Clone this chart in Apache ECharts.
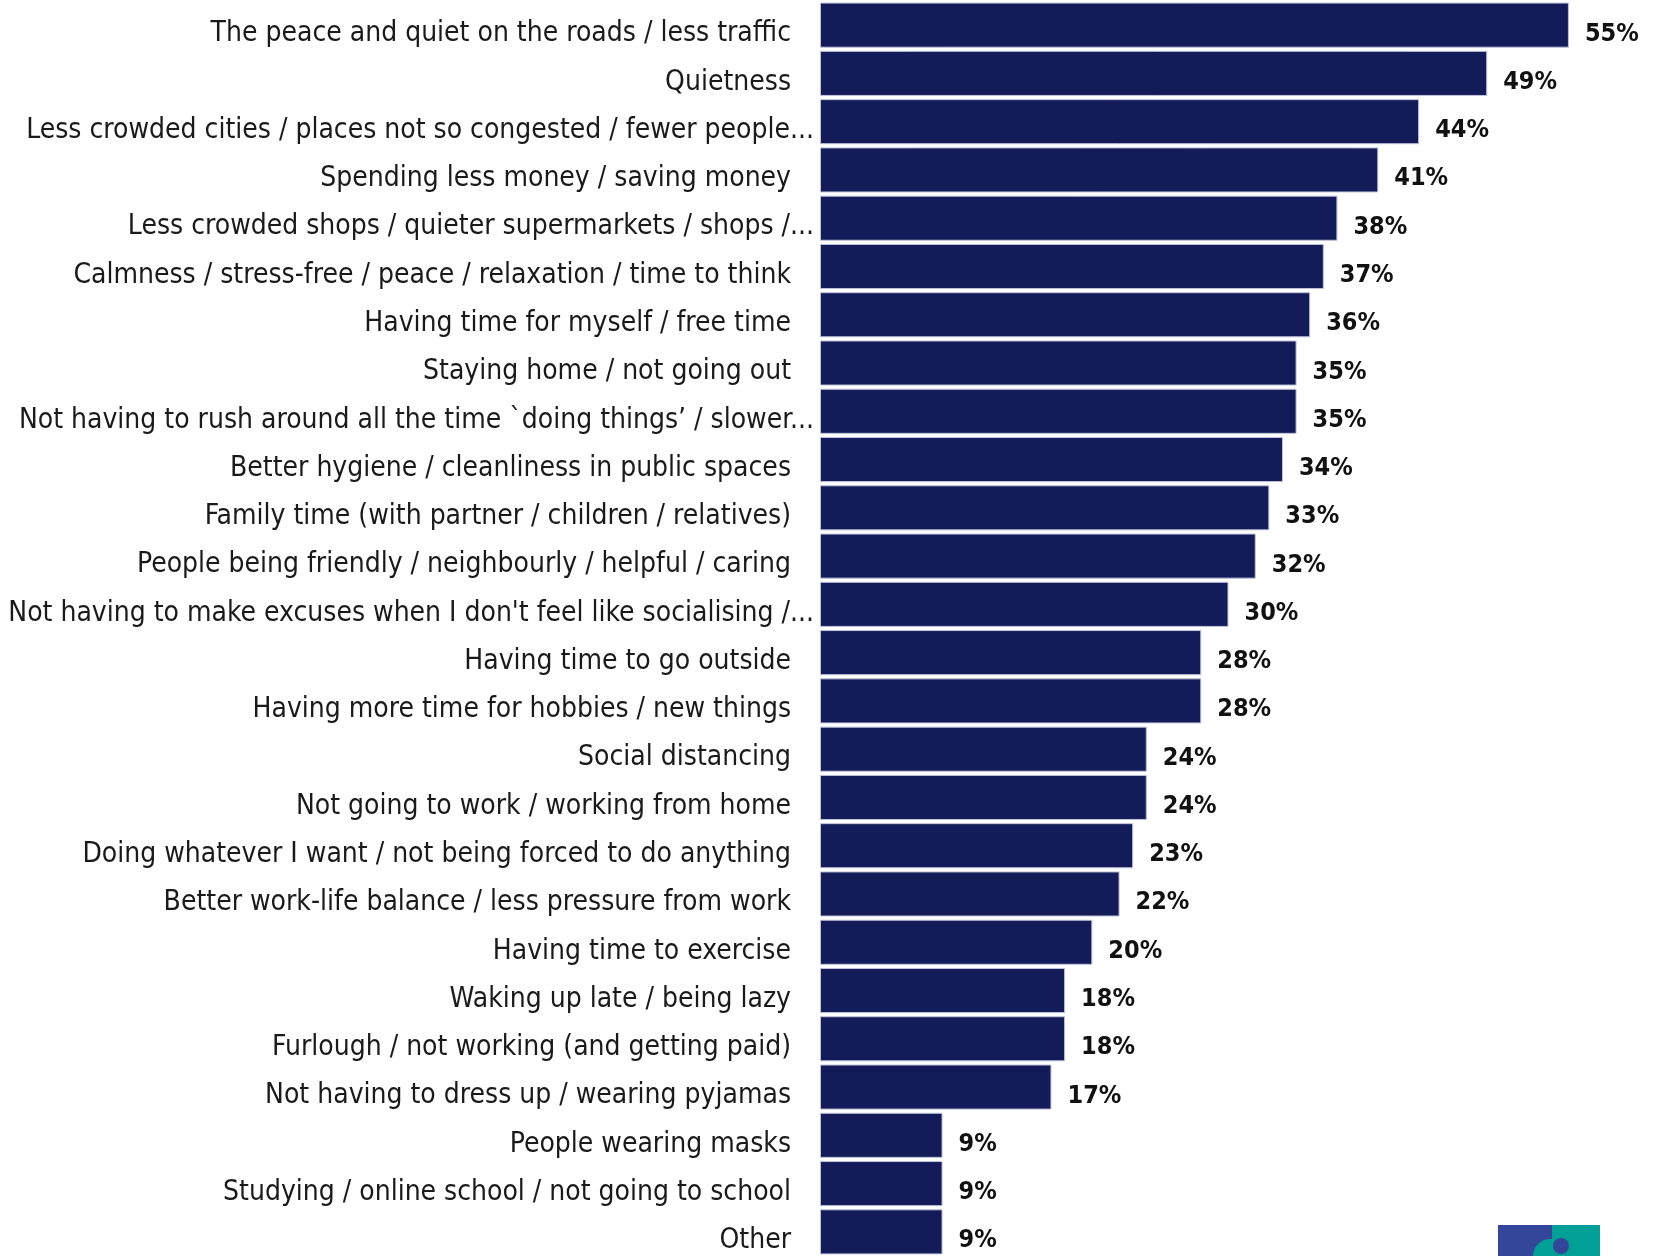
<!DOCTYPE html>
<html>
<head>
<meta charset="utf-8">
<script src="https://cdn.jsdelivr.net/npm/echarts@6/dist/echarts.min.js"></script>
<style>
html,body{margin:0;padding:0;background:#fff;overflow:hidden;}
#chart{width:1657px;height:1256px;}
</style>
</head>
<body>
<div id="chart"></div>
<script>
const categories = [
  "The peace and quiet on the roads / less traffic",
  "Quietness",
  "Less crowded cities / places not so congested / fewer people...",
  "Spending less money / saving money",
  "Less crowded shops / quieter supermarkets / shops /...",
  "Calmness / stress-free / peace / relaxation / time to think",
  "Having time for myself / free time",
  "Staying home / not going out",
  "Not having to rush around all the time `doing things\u2019 / slower...",
  "Better hygiene / cleanliness in public spaces",
  "Family time (with partner / children / relatives)",
  "People being friendly / neighbourly / helpful / caring",
  "Not having to make excuses when I don't feel like socialising /...",
  "Having time to go outside",
  "Having more time for hobbies / new things",
  "Social distancing",
  "Not going to work / working from home",
  "Doing whatever I want / not being forced to do anything",
  "Better work-life balance / less pressure from work",
  "Having time to exercise",
  "Waking up late / being lazy",
  "Furlough / not working (and getting paid)",
  "Not having to dress up / wearing pyjamas",
  "People wearing masks",
  "Studying / online school / not going to school",
  "Other"
];
const values = [55, 49, 44, 41, 38, 37, 36, 35, 35, 34, 33, 32, 30, 28, 28, 24, 24, 23, 22, 20, 18, 18, 17, 9, 9, 9];

const LABEL_FONT = "'Liberation Sans Narrow', 'DejaVu Sans Condensed', 'Roboto Condensed', Roboto, sans-serif";
const chart = echarts.init(document.getElementById('chart'));
chart.setOption({
  animation: false,
  backgroundColor: '#ffffff',
  grid: { left: 820, top: 1, width: 817, height: 1260, containLabel: false },
  xAxis: { type: 'value', min: 0, max: 60, show: false },
  yAxis: {
    type: 'category',
    data: categories,
    inverse: true,
    axisLine: { show: false },
    axisTick: { show: false },
    splitLine: { show: false },
    axisLabel: {
      margin: 6,
      fontSize: 28,
      fontFamily: LABEL_FONT,
      color: '#1a1a1a',
      formatter: function (v) {
        return v.endsWith('...') ? '{t|' + v + '}' : '{n|' + v + '}';
      },
      rich: {
        n: { fontSize: 28, fontFamily: LABEL_FONT, color: '#1a1a1a', padding: [18, 23, 0, 0] },
        t: { fontSize: 28, fontFamily: LABEL_FONT, color: '#1a1a1a', padding: [18, 0, 0, 0] }
      }
    }
  },
  series: [{
    type: 'bar',
    data: values,
    barCategoryGap: '6.6%',
    itemStyle: { color: '#131c58', borderColor: '#bfc3da', borderWidth: 1 },
    label: {
      show: true,
      position: 'right',
      distance: 16,
      offset: [0, 9],
      formatter: '{c}%',
      fontSize: 25,
      fontWeight: 'bold',
      fontFamily: LABEL_FONT,
      color: '#111111',
      padding: [6, 0, 0, 0]
    }
  }],
  graphic: [
    { type: 'rect', shape: { x: 1498, y: 1225, width: 54, height: 40 }, style: { fill: '#33469a' }, silent: true },
    { type: 'rect', shape: { x: 1552, y: 1225, width: 48, height: 40 }, style: { fill: '#00a096' }, silent: true },
    { type: 'circle', shape: { cx: 1550, cy: 1256, r: 17 }, style: { fill: '#00a096' }, silent: true },
    { type: 'circle', shape: { cx: 1561, cy: 1246, r: 8 }, style: { fill: '#33469a' }, silent: true }
  ]
});
</script>
</body>
</html>
